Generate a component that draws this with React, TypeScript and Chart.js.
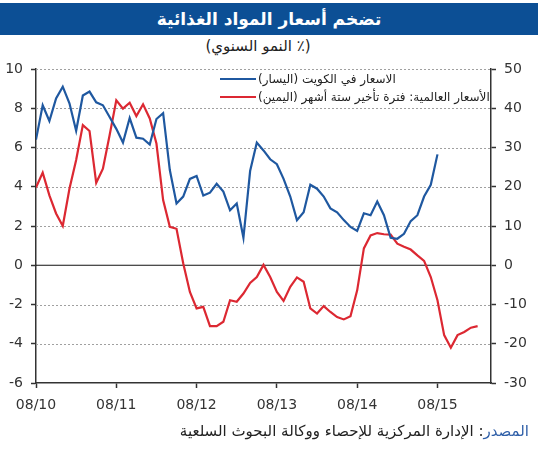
import React, { useEffect, useRef } from "react";
import { Chart, registerables } from "chart.js";

Chart.register(...registerables);

const titleText = "تضخم أسعار المواد الغذائية";
const subtitleText = "(٪ النمو السنوي)";
const sourceLabel = "المصدر";
const sourceText = ": الإدارة المركزية للإحصاء ووكالة البحوث السلعية";
const kuwaitLabel = "الاسعار في الكويت (اليسار)";
const worldLabel = "الأسعار العالمية: فترة تأخير ستة أشهر (اليمين)";

// month index 0 = 08/2010
const xTickMonths = [0, 12, 24, 36, 48, 60];
const xTickLabels = ["08/10", "08/11", "08/12", "08/13", "08/14", "08/15"];

// Kuwait food inflation, left axis (%)
const kuwaitValues = [
  6.4, 8.15, 7.35, 8.5, 9.1, 8.25, 6.85, 8.65, 8.85, 8.3,
  8.15, 7.55, 6.95, 6.25, 7.5, 6.5, 6.45, 6.15, 7.45, 7.75,
  4.85, 3.15, 3.5, 4.4, 4.55, 3.55, 3.7, 4.15, 3.75, 2.8,
  3.15, 1.4, 4.8, 6.25, 5.85, 5.4, 5.15, 4.4, 3.5, 2.3,
  2.7, 4.1, 3.9, 3.5, 2.9, 2.7, 2.3, 1.95, 1.75, 2.65,
  2.55, 3.25, 2.55, 1.4, 1.35, 1.6, 2.25, 2.55, 3.5, 4.1,
  5.65,
];

// World food prices, six-month lag, right axis (%)
const worldValues = [
  19.8, 23.6, 17.8, 13.2, 10.0, 19.5, 26.8, 35.7, 34.2, 21.0,
  24.6, 33.1, 42.0, 39.9, 41.4, 38.0, 41.0, 37.4, 31.0, 16.6,
  9.8, 9.3, 0.5, -6.8, -11.0, -10.6, -15.5, -15.5, -14.4, -8.9,
  -9.3, -7.2, -4.5, -3.0, 0.1, -3.0, -6.8, -9.1, -5.5, -3.1,
  -4.2, -11.0, -12.3, -10.4, -11.9, -13.2, -13.8, -13.0, -6.4, 4.3,
  7.6, 8.2, 7.9, 7.8, 5.5, 4.7, 4.0, 2.5, 1.1, -3.0,
  -8.9, -17.8, -21.0, -17.8, -17.0, -15.9, -15.5,
];

const xMin = 0;
const xMax = 68;
const leftMin = -6;
const leftMax = 10;
const rightMin = -30;
const rightMax = 50;

const BLUE = "#1f58a0";
const RED = "#dc2832";
const AXIS = "#333333";
const GRID = "#a0a0a0";
const FONT = "'DejaVu Sans', 'Liberation Sans', sans-serif";

// dotted horizontal gridlines at the left-axis ticks (except 0 and the bottom)
const dottedGridPlugin = {
  id: "dottedGrid",
  beforeDatasetsDraw(chart: any) {
    const scale = chart.scales.y;
    const area = chart.chartArea;
    if (!scale || !area) return;
    const ctx = chart.ctx;
    ctx.save();
    ctx.strokeStyle = GRID;
    ctx.lineWidth = 1;
    ctx.setLineDash([2, 2]);
    scale.ticks.forEach((t: any) => {
      if (t.value === 0 || t.value === leftMin) return;
      const y = Math.round(scale.getPixelForValue(t.value)) + 0.5;
      ctx.beginPath();
      ctx.moveTo(area.left, y);
      ctx.lineTo(area.right, y);
      ctx.stroke();
    });
    ctx.restore();
  },
};

export default function App() {
  const canvasRef = useRef<HTMLCanvasElement | null>(null);

  useEffect(() => {
    const canvas = canvasRef.current;
    if (!canvas) return;
    const chart = new Chart(canvas, {
      type: "line",
      data: {
        datasets: [
          {
            label: kuwaitLabel,
            data: kuwaitValues.map((v, i) => ({ x: i, y: v })),
            borderColor: BLUE,
            borderWidth: 2.2,
            pointRadius: 0,
            tension: 0,
            yAxisID: "y",
          },
          {
            label: worldLabel,
            data: worldValues.map((v, i) => ({ x: i, y: v })),
            borderColor: RED,
            borderWidth: 2.2,
            pointRadius: 0,
            tension: 0,
            yAxisID: "y2",
          },
          {
            label: "zero",
            data: [
              { x: xMin, y: 0 },
              { x: xMax, y: 0 },
            ],
            borderColor: "#111111",
            borderWidth: 1.2,
            pointRadius: 0,
            yAxisID: "y",
          },
        ],
      },
      options: {
        animation: false,
        responsive: false,
        maintainAspectRatio: false,
        layout: { padding: { top: 69, left: 0, right: 0, bottom: 0 } },
        plugins: {
          legend: { display: false },
          tooltip: { enabled: false },
          title: { display: false },
        },
        scales: {
          x: {
            type: "linear",
            min: xMin,
            max: xMax,
            afterBuildTicks: (scale: any) => {
              scale.ticks = xTickMonths.map((m) => ({ value: m }));
            },
            afterFit: (scale: any) => {
              scale.height = 67;
            },
            ticks: {
              autoSkip: false,
              maxRotation: 0,
              padding: 9,
              color: AXIS,
              font: { family: FONT, size: 14 },
              callback: (v: any) => {
                const idx = xTickMonths.indexOf(Number(v));
                return idx >= 0 ? xTickLabels[idx] : "";
              },
            },
            grid: {
              drawOnChartArea: false,
              drawTicks: true,
              tickLength: 5,
              tickColor: AXIS,
              tickWidth: 1.5,
            },
            border: { display: true, color: AXIS, width: 1.5 },
          },
          y: {
            type: "linear",
            position: "left",
            min: leftMin,
            max: leftMax,
            afterFit: (scale: any) => {
              scale.width = 36;
            },
            ticks: {
              stepSize: 2,
              padding: 8,
              color: AXIS,
              font: { family: FONT, size: 14 },
            },
            grid: {
              drawOnChartArea: false,
              tickLength: 5,
              tickColor: AXIS,
              tickWidth: 1.5,
            },
            border: { display: true, color: AXIS, width: 1.5 },
          },
          y2: {
            type: "linear",
            position: "right",
            min: rightMin,
            max: rightMax,
            afterFit: (scale: any) => {
              scale.width = 47;
            },
            ticks: {
              stepSize: 10,
              padding: 8,
              color: AXIS,
              font: { family: FONT, size: 14 },
            },
            grid: {
              drawOnChartArea: false,
              tickLength: 5,
              tickColor: AXIS,
              tickWidth: 1.5,
            },
            border: { display: true, color: AXIS, width: 1.5 },
          },
        },
      },
      plugins: [dottedGridPlugin],
    });
    return () => chart.destroy();
  }, []);

  return (
    <div
      style={{
        position: "fixed",
        left: 0,
        top: 0,
        width: 538,
        height: 450,
        background: "#ffffff",
        overflow: "hidden",
        fontFamily: FONT,
      }}
    >
      <div
        style={{
          position: "absolute",
          left: 0,
          top: 3,
          width: 538,
          height: 32,
          background: "#0c4f95",
          color: "#ffffff",
          fontWeight: "bold",
          fontSize: 17,
          lineHeight: "32px",
          textAlign: "center",
          direction: "rtl",
        }}
      >
        {titleText}
      </div>
      <div
        style={{
          position: "absolute",
          left: 0,
          top: 37,
          width: 516,
          textAlign: "center",
          fontSize: 15,
          color: "#222",
          direction: "rtl",
        }}
      >
        {subtitleText}
      </div>
      <canvas
        ref={canvasRef}
        width={538}
        height={450}
        style={{ position: "absolute", left: 0, top: 0, width: 538, height: 450 }}
      />
      <div style={{ position: "absolute", left: 220, top: 70, fontSize: 12, color: "#222" }}>
        <div style={{ display: "flex", alignItems: "center", height: 18 }}>
          <div style={{ width: 36, height: 2.5, background: BLUE }} />
          <span style={{ direction: "rtl", marginLeft: 2 }}>{kuwaitLabel}</span>
        </div>
        <div style={{ display: "flex", alignItems: "center", height: 18 }}>
          <div style={{ width: 36, height: 2.5, background: RED }} />
          <span style={{ direction: "rtl", marginLeft: 2 }}>{worldLabel}</span>
        </div>
      </div>
      <div
        style={{
          position: "absolute",
          right: 9,
          top: 422,
          fontSize: 15,
          color: "#222",
          direction: "rtl",
          whiteSpace: "nowrap",
        }}
      >
        <span style={{ color: "#2f5fa8" }}>{sourceLabel}</span>
        <span>{sourceText}</span>
      </div>
    </div>
  );
}
